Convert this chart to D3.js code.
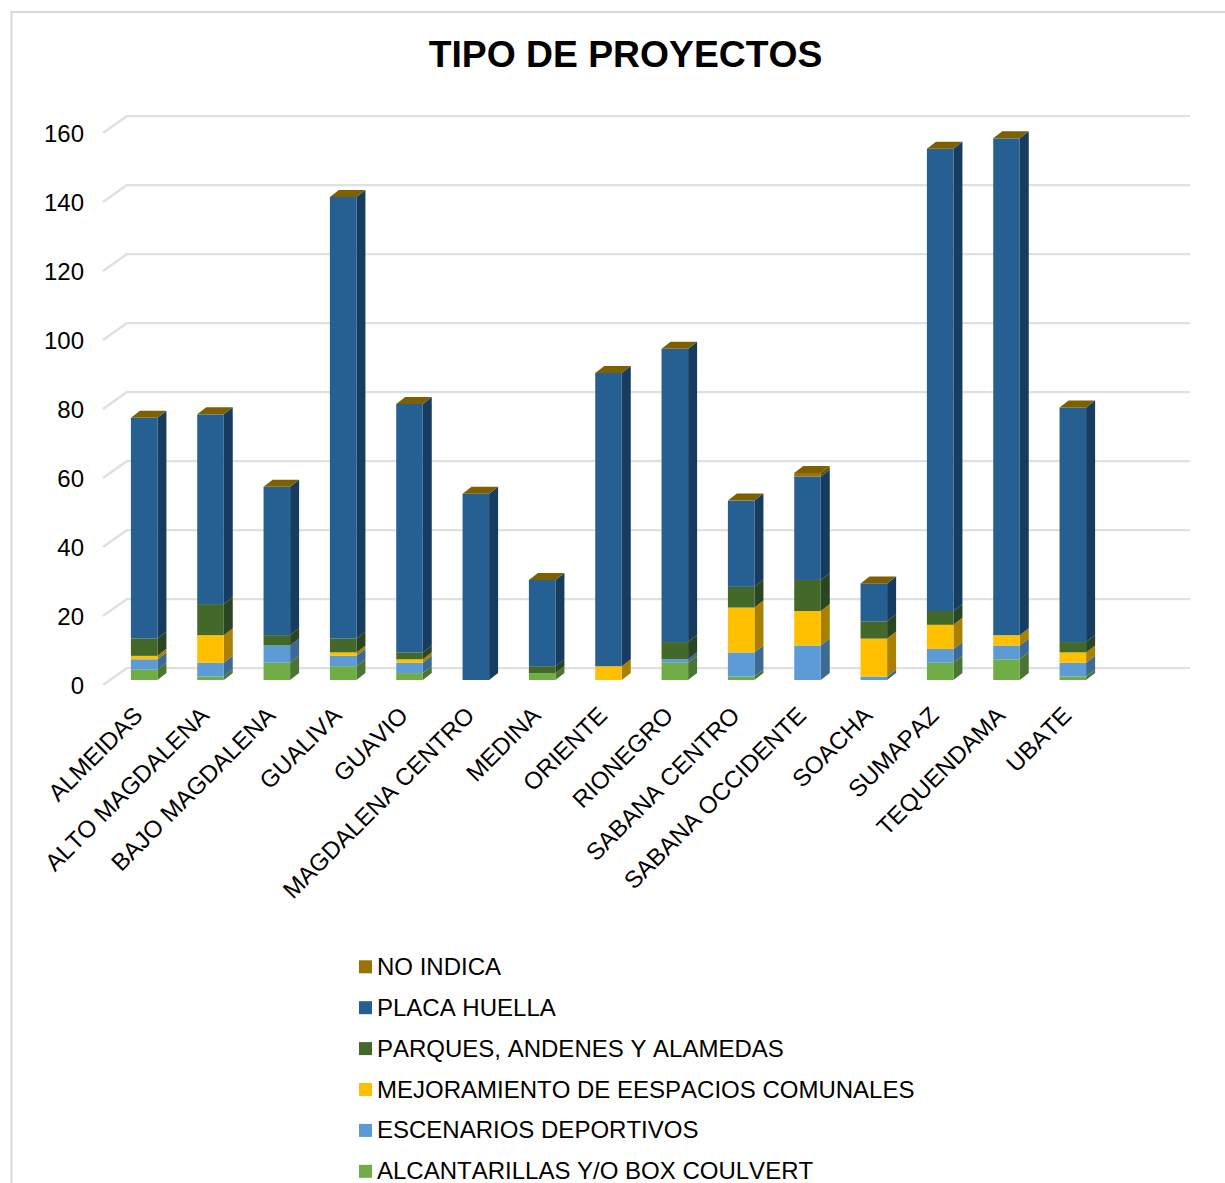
<!DOCTYPE html>
<html>
<head>
<meta charset="utf-8">
<script src="https://cdn.jsdelivr.net/npm/d3@7"></script>
<style>
  html, body { margin: 0; padding: 0; background: #fff; overflow: hidden; }
  svg { display: block; }
  text { font-family: "Liberation Sans", Arial, sans-serif; fill: #000; font-kerning: none; }
</style>
</head>
<body>
<div id="chart"></div>
<script>
// values
var regions = ["ALMEIDAS", "ALTO MAGDALENA", "BAJO MAGDALENA", "GUALIVA", "GUAVIO",
  "MAGDALENA CENTRO", "MEDINA", "ORIENTE", "RIONEGRO", "SABANA CENTRO",
  "SABANA OCCIDENTE", "SOACHA", "SUMAPAZ", "TEQUENDAMA", "UBATE"];
var alcantarillas = [3, 1, 5, 4, 2, 0, 2, 0, 5, 1, 0, 0, 5, 6, 1];
var escenarios    = [3, 4, 5, 3, 3, 0, 0, 0, 1, 7, 10, 1, 4, 4, 4];
var mejoramiento  = [1, 8, 0, 1, 1, 0, 0, 4, 0, 13, 10, 11, 7, 3, 3];
var parques       = [5, 9, 3, 4, 2, 0, 2, 0, 5, 6, 9, 5, 4, 0, 3];
var placaHuella   = [64, 55, 43, 128, 72, 54, 25, 85, 85, 25, 30, 11, 134, 144, 68];
var noIndica      = [0, 0, 0, 0, 0, 0, 0, 0, 0, 0, 1, 0, 0, 0, 0];
var yTicks = [0, 20, 40, 60, 80, 100, 120, 140, 160];

var seriesNames = ["ALCANTARILLAS Y/O BOX COULVERT", "ESCENARIOS DEPORTIVOS",
  "MEJORAMIENTO DE EESPACIOS COMUNALES", "PARQUES, ANDENES Y ALAMEDAS",
  "PLACA HUELLA", "NO INDICA"];
var seriesValues = [alcantarillas, escenarios, mejoramiento, parques, placaHuella, noIndica];
var seriesColors = ["#70ad47", "#5b9bd5", "#ffc000", "#43682b", "#255e91", "#997300"];
var sideColors = ["#4b7530", "#3b6a94", "#aa8000", "#2b4420", "#173c5e", "#6b5100"];

var width = 1225, height = 1183;

var svg = d3.select("#chart").append("svg")
    .attr("width", width)
    .attr("height", height);

// the reference is a slightly soft picture
svg.append("defs").append("filter")
    .attr("id", "soft")
    .attr("x", "-5%").attr("y", "-5%").attr("width", "110%").attr("height", "110%")
  .append("feGaussianBlur")
    .attr("stdDeviation", 0.6);

// chart frame, only top and left are in the picture
svg.append("path")
    .attr("d", "M11.5," + height + "V12H" + width)
    .attr("fill", "none")
    .attr("stroke", "#d9d9d9")
    .attr("stroke-width", 2);

svg.append("text")
    .attr("x", 625.5)
    .attr("y", 67)
    .attr("text-anchor", "middle")
    .style("font-size", "37.3px")
    .style("font-weight", "bold")
    .text("TIPO DE PROYECTOS");

// front face of the bars
var x = d3.scaleBand().domain(regions).range([111, 1106]).paddingInner(0.6).paddingOuter(0.3);
var y = d3.scaleLinear().domain([0, 160]).range([680, 128]);

// depth of the walls and of the bars
var wall = {dx: 24, dy: -17, back: -12};
var depth = {dx: 9, dy: -7};

// gridlines on the back wall plus the floor diagonal
var grid = svg.append("g").selectAll("path")
  .data(yTicks)
  .enter().append("path")
    .attr("d", function(d) {
      var yb = y(d) + wall.back;
      return "M103," + (yb - wall.dy) + "L" + (103 + wall.dx) + "," + yb + "H1190";
    })
    .attr("fill", "none")
    .attr("stroke", "#e0e0e0")
    .attr("stroke-width", 2.6)
    .attr("filter", "url(#soft)");

// y axis labels
var yAxis = svg.append("g")
    .attr("transform", "translate(88,6)")
    .call(d3.axisLeft(y).tickValues(yTicks).tickSize(0).tickPadding(4));
yAxis.select(".domain").remove();
yAxis.selectAll("text").style("font-size", "24px");

// x axis labels
var xAxis = svg.append("g")
    .attr("transform", "translate(0,680)")
    .call(d3.axisBottom(x).tickSize(0));
xAxis.select(".domain").remove();
xAxis.selectAll("text")
    .style("font-size", "24px")
    .attr("text-anchor", "end")
    .attr("dy", null)
    .attr("y", null)
    .attr("transform", function() { return "translate(0,37) rotate(-45)"; });

// stack the series
var table = regions.map(function(r, i) {
  var row = {region: r};
  seriesNames.forEach(function(n, j) { row[n] = seriesValues[j][i]; });
  return row;
});
var stacked = d3.stack().keys(seriesNames)(table);

var bars = svg.append("g").attr("filter", "url(#soft)");

var layers = bars.append("g").selectAll("g")
  .data(stacked)
  .enter().append("g");

var w = x.bandwidth();

// side faces
layers.selectAll(".side")
  .data(function(s, i) {
    return s.map(function(d) { return {d: d, i: i}; }).filter(function(o) { return o.d[1] > o.d[0]; });
  })
  .enter().append("path")
    .attr("class", "side")
    .attr("fill", function(o) { return sideColors[o.i]; })
    .attr("d", function(o) {
      var xr = x(o.d.data.region) + w;
      return "M" + xr + "," + y(o.d[0]) + "l" + depth.dx + "," + depth.dy +
        "V" + (y(o.d[1]) + depth.dy) + "L" + xr + "," + y(o.d[1]) + "Z";
    });

// front faces
layers.selectAll(".front")
  .data(function(s, i) {
    return s.map(function(d) { return {d: d, i: i}; }).filter(function(o) { return o.d[1] > o.d[0]; });
  })
  .enter().append("rect")
    .attr("class", "front")
    .attr("x", function(o) { return x(o.d.data.region); })
    .attr("y", function(o) { return y(o.d[1]); })
    .attr("width", w)
    .attr("height", function(o) { return y(o.d[0]) - y(o.d[1]); })
    .attr("fill", function(o) { return seriesColors[o.i]; });

// top cap, NO INDICA is mostly zero so often only its top shows
bars.append("g").selectAll("path")
  .data(stacked[stacked.length - 1])
  .enter().append("path")
    .attr("fill", "#7f6000")
    .attr("d", function(d) {
      var xl = x(d.data.region), yt = y(d[1]);
      return "M" + xl + "," + yt + "l" + depth.dx + "," + depth.dy + "h" + w +
        "l" + (-depth.dx) + "," + (-depth.dy) + "Z";
    });

// legend, reversed so NO INDICA is on top
var legendOrder = seriesNames.slice().reverse();
var legendY = d3.scalePoint().domain(legendOrder).range([966.8, 1171.3]);

var legend = svg.append("g").selectAll("g")
  .data(legendOrder)
  .enter().append("g")
    .attr("transform", function(d) { return "translate(359," + legendY(d) + ")"; });

legend.append("rect")
    .attr("y", -6.5)
    .attr("width", 13)
    .attr("height", 13)
    .attr("fill", function(d) { return seriesColors[seriesNames.indexOf(d)]; });

legend.append("text")
    .attr("x", 18)
    .attr("y", 8)
    .style("font-size", "24px")
    .text(function(d) { return d; });
</script>
</body>
</html>
